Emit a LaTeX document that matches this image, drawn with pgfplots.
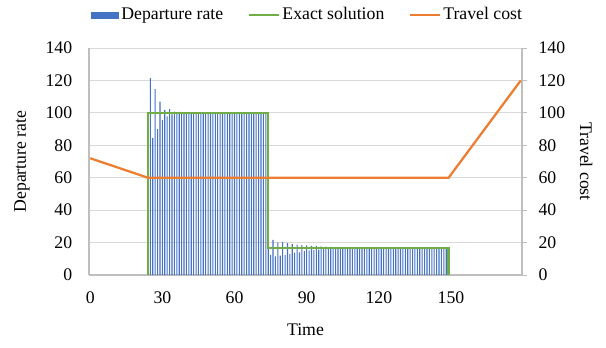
\documentclass[border=0pt]{standalone}
\usepackage{fontspec}
\setmainfont{Liberation Serif}
\usepackage{pgfplots}
\pgfplotsset{compat=1.18}
\definecolor{exblue}{HTML}{4472C4}
\definecolor{exgreen}{HTML}{70AD47}
\definecolor{exorange}{HTML}{ED7D31}
\definecolor{axgray}{HTML}{BFBFBF}
\definecolor{grgray}{HTML}{D9D9D9}
\pgfplotsset{
  every axis/.append style={font=\fontsize{13.3}{15}\selectfont},
  /pgf/number format/assume math mode=true,
}
\begin{document}
\fontsize{13.3}{15}\selectfont
\begin{tikzpicture}
\useasboundingbox (-66.75pt,-54pt) rectangle (387.75pt,206.25pt);
\begin{axis}[
  scale only axis, width=324.75pt, height=170.25pt,
  xmin=-0.5, xmax=179.5, ymin=0, ymax=140,
  xtick={0,30,...,150}, ytick={0,20,...,140},
  axis x line*=bottom, axis y line*=left,
  axis line style={draw=axgray, line width=1pt, -},
  major tick length=0pt,
  ymajorgrids, grid style={draw=grgray, line width=0.75pt},
  yticklabel style={xshift=-8pt},
  xticklabel style={yshift=-8pt},
  xlabel={Time}, ylabel={Departure rate},
  every axis x label/.style={at={(axis description cs:0.5,-0.242)}, anchor=center},
  every axis y label/.style={at={(axis description cs:-0.155,0.5)}, anchor=center, rotate=90},
  legend style={at={(0.505,1.145)}, anchor=center, draw=none, fill=none,
    legend columns=3, /tikz/every even column/.append style={column sep=16pt},
    font=\fontsize{13.3}{15}\selectfont},
]
\addplot[ybar, bar width=0.45, fill=exblue, draw=none,
  legend image code/.code={\fill[exblue] (0pt,-2.6pt) rectangle (21pt,2.6pt);}]
coordinates {
(24,100) (25,121.5) (26,84.5) (27,114.7) (28,90) (29,107) (30,95.7) (31,101.9)
(32,97.8) (33,102.3) (34,99) (35,100.8) (36,99.5) (37,100.6) (38,99.8)
(39,100) (40,100) (41,100) (42,100) (43,100) (44,100) (45,100) (46,100)
(47,100) (48,100) (49,100) (50,100) (51,100) (52,100) (53,100) (54,100)
(55,100) (56,100) (57,100) (58,100) (59,100) (60,100) (61,100) (62,100)
(63,100) (64,100) (65,100) (66,100) (67,100) (68,100) (69,100) (70,100)
(71,100) (72,100) (73,100) (74,100)
(75,12.4) (76,21.6) (77,11.5) (78,20.2) (79,12) (80,20.4) (81,12.4) (82,19.6)
(83,13) (84,19.1) (85,13.8) (86,18.7) (87,14) (88,18.5) (89,14.8) (90,18.3)
(91,15.2) (92,18) (93,15.4) (94,17.9) (95,15.6) (96,17.6) (97,15.9) (98,17.5)
(99,16.2) (100,17.3) (101,16.5) (102,17.1) (103,16.6) (104,17)
(105,16.7) (106,16.7) (107,16.7) (108,16.7) (109,16.7) (110,16.7) (111,16.7)
(112,16.7) (113,16.7) (114,16.7) (115,16.7) (116,16.7) (117,16.7) (118,16.7)
(119,16.7) (120,16.7) (121,16.7) (122,16.7) (123,16.7) (124,16.7) (125,16.7)
(126,16.7) (127,16.7) (128,16.7) (129,16.7) (130,16.7) (131,16.7) (132,16.7)
(133,16.7) (134,16.7) (135,16.7) (136,16.7) (137,16.7) (138,16.7) (139,16.7)
(140,16.7) (141,16.7) (142,16.7) (143,16.7) (144,16.7) (145,16.7) (146,16.7)
(147,16.7) (148,16.7)
};
\addlegendentry{Departure rate}
\addplot[exgreen, line width=1.9pt,
  legend image code/.code={\draw[exgreen, line width=1.9pt] (0pt,0pt) -- (22.5pt,0pt);}]
coordinates {(24,0) (24,100) (74,100) (74,16.67) (149,16.67) (149,0)};
\addlegendentry{Exact solution}
\addlegendimage{legend image code/.code={\draw[exorange, line width=1.7pt] (0pt,0pt) -- (22.5pt,0pt);}}
\addlegendentry{Travel cost}
\end{axis}
\begin{axis}[
  scale only axis, width=324.75pt, height=170.25pt,
  xmin=-0.5, xmax=179.5, ymin=0, ymax=140,
  ytick={0,20,...,140},
  axis x line=none, axis y line*=right,
  axis line style={draw=axgray, line width=1pt, -},
  tick align=outside, major tick length=3.75pt,
  tick style={draw=axgray, line width=0.75pt},
  yticklabel style={xshift=4pt},
  ylabel={Travel cost},
  every axis y label/.style={at={(axis description cs:1.148,0.5)}, anchor=center, rotate=-90},
]
\addplot[exorange, line width=1.7pt]
coordinates {(0,72) (24,60) (149,60) (179,120)};
\end{axis}
\end{tikzpicture}
\end{document}
